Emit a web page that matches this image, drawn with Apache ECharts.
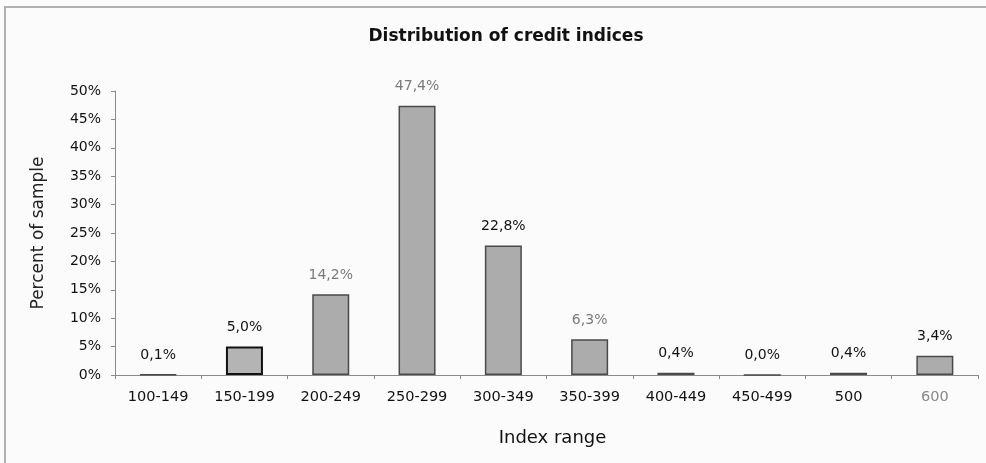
<!DOCTYPE html>
<html>
<head>
<meta charset="utf-8">
<script src="https://cdn.jsdelivr.net/npm/echarts@6/dist/echarts.min.js"></script>
<style>
  html, body { margin: 0; padding: 0; background: #fbfbfb; }
  #chart { width: 986px; height: 463px; }
</style>
</head>
<body>
<div id="chart"></div>
<script>
// Index ranges and share of the sample in each range (percent)
const categories = ['100-149', '150-199', '200-249', '250-299', '300-349',
                    '350-399', '400-449', '450-499', '500', '600'];
const percentOfSample = [0.1, 5.0, 14.2, 47.4, 22.8, 6.3, 0.4, 0.0, 0.4, 3.4];
// Labels printed in a lighter grey
const lightLabels = ['200-249', '250-299', '350-399'];
const yTicks = [0, 5, 10, 15, 20, 25, 30, 35, 40, 45, 50];

const fmt = v => v.toFixed(1).replace('.', ',') + '%';
const FONT = 'DejaVu Sans, Arial, sans-serif';

const chart = echarts.init(document.getElementById('chart'));
chart.setOption({
  backgroundColor: '#fbfbfb',
  animation: false,
  title: {
    text: 'Distribution of credit indices',
    left: 501,
    textAlign: 'center',
    top: 23,
    textStyle: { fontFamily: FONT, fontSize: 17, fontWeight: 'bold', color: '#111' }
  },
  graphic: [{
    type: 'rect',
    shape: { x: 5, y: 7, width: 1000, height: 500 },
    style: { fill: 'none', stroke: '#b0b0b0', lineWidth: 2 },
    silent: true
  }],
  grid: { left: 115, right: 8, top: 91, bottom: 88 },
  xAxis: {
    type: 'category',
    data: categories,
    name: 'Index range',
    nameLocation: 'middle',
    nameGap: 54,
    nameTextStyle: { fontFamily: FONT, fontSize: 18, color: '#111', padding: [0, 0, 0, 12] },
    axisLine: { lineStyle: { color: '#8a8a8a', width: 1 } },
    axisTick: { show: true, alignWithLabel: false, length: 4, lineStyle: { color: '#8a8a8a' } },
    axisLabel: {
      margin: 15,
      fontFamily: FONT,
      fontSize: 14.5,
      color: '#111',
      formatter: v => v === '600' ? '{g|' + v + '}' : v,
      rich: { g: { color: '#888', fontFamily: FONT, fontSize: 14.5 } }
    }
  },
  yAxis: {
    type: 'value',
    min: yTicks[0],
    max: yTicks[yTicks.length - 1],
    interval: 5,
    name: 'Percent of sample',
    nameLocation: 'middle',
    nameGap: 68,
    nameTextStyle: { fontFamily: FONT, fontSize: 17, color: '#222' },
    axisLine: { show: true, lineStyle: { color: '#8a8a8a', width: 1 } },
    axisTick: { show: true, length: 4, lineStyle: { color: '#8a8a8a' } },
    splitLine: { show: false },
    axisLabel: {
      margin: 14,
      fontFamily: FONT,
      fontSize: 14,
      color: '#111',
      formatter: v => v + '%'
    }
  },
  series: [{
    type: 'bar',
    barWidth: 37,
    data: percentOfSample.map((v, i) => {
      const light = lightLabels.includes(categories[i]);
      const item = {
        value: v,
        itemStyle: { color: '#acacac', borderColor: '#4a4a4a', borderWidth: 1.5 },
        label: { color: light ? '#7a7a7a' : '#111' }
      };
      if (categories[i] === '150-199') {
        item.itemStyle = { color: '#b4b4b4', borderColor: '#111', borderWidth: 2 };
      }
      return item;
    }),
    label: {
      show: true,
      position: 'top',
      distance: 12,
      fontFamily: FONT,
      fontSize: 14,
      formatter: p => fmt(p.value)
    }
  }]
});
</script>
</body>
</html>
